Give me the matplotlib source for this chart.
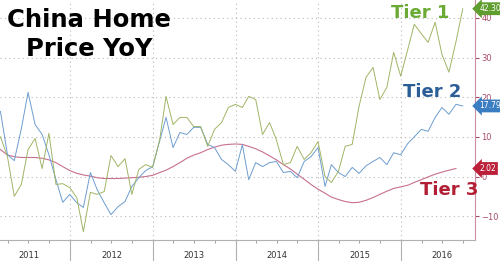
import matplotlib
matplotlib.use("Agg")
import matplotlib.pyplot as plt
import matplotlib.dates as mdates
import matplotlib.transforms as mtrans
import pandas as pd
from datetime import datetime

# monthly readings, Feb 2011 .. Sep 2016 (tier 3 ends one month earlier)
meses = pd.date_range("2011-02-28", periods=68, freq="ME")

tier1 = [10, 5, -5, -2, 6.8, 9.6, 2, 10.9, -2, -1.8, -2.8, -5.3, -13.9, -4, -4.5, -3.8,
         5.3, 2.5, 4.5, -4.5, 1.8, 3, 2.3, 9.3, 20.2, 13.1, 14.9, 14.9, 12.6, 12.6, 7.6,
         11.9, 13.6, 17.4, 18.2, 17.4, 20.2, 19.4, 10.6, 13.6, 9.3, 3, 3.5, 7.6, 4.3, 6,
         8.8, 0, -1.5, 1.3, 7.6, 8.1, 17.7, 25, 27.5, 19.4, 22.5, 31.3, 25.3, 32, 38.4,
         36, 33.8, 38.9, 30.8, 26.3, 34, 42.3]

tier2 = [16.4, 5.5, 4, 12, 21.2, 13.1, 10.6, 5.5, -0.8, -6.5, -4.5, -6.6, -7.8, 1, -3.3,
         -6.6, -9.6, -7.6, -6.3, -2.5, -0.3, 1.5, 2.5, 9, 14.9, 7.3, 11.1, 10.6, 12.4,
         12.4, 8.1, 7.3, 4.3, 3, 1.3, 8, -0.8, 3.5, 2.5, 3.5, 3.8, 1, 1.3, -0.3, 3.8, 5,
         7.3, -2.5, 3, 1, 0, 2.3, 0.8, 2.7, 3.8, 4.8, 3, 6, 5.5, 8.3, 10, 11.9, 11.4,
         14.9, 17.4, 15.7, 18.2, 17.79]

tier3 = [6.8, 5.4, 5.0, 4.8, 4.8, 4.8, 4.6, 4.2, 3.5, 2.5, 1.5, 0.8, 0.4, 0.1, -0.3,
         -0.5, -0.5, -0.5, -0.4, -0.3, -0.2, 0, 0.3, 1.0, 1.6, 2.5, 3.5, 4.6, 5.4, 6.0,
         6.8, 7.4, 7.9, 8.1, 8.2, 8.1, 7.6, 7.0, 6.2, 5.2, 4.2, 3.0, 1.9, 0.6, -0.7,
         -2.0, -3.2, -4.2, -5.2, -5.8, -6.3, -6.6, -6.5, -6.0, -5.3, -4.5, -3.7, -3.0,
         -2.6, -2.2, -1.5, -0.8, -0.1, 0.6, 1.1, 1.6, 2.02]

anos = ["2011", "2012", "2013", "2014", "2015", "2016"]

cor1, cor2, cor3 = "#a0b566", "#6d9dd0", "#c7708e"

fig = plt.figure(figsize=(5, 2.61), dpi=100)
ax = fig.add_axes([0, 0.0805, 0.95, 0.9195])

ax.plot(meses[:len(tier3)], tier3, color=cor3, lw=0.8)
ax.plot(meses[:len(tier2)], tier2, color=cor2, lw=0.7)
ax.plot(meses[:len(tier1)], tier1, color=cor1, lw=0.7)

ax.set_xlim(datetime(2011, 2, 26), datetime(2016, 11, 23))
ax.set_ylim(-16, 44.5)

# eixo direito
ax.yaxis.tick_right()
ax.set_yticks([-10, 0, 10, 20, 30, 40])
ax.tick_params(axis="y", colors="#a94a6a", labelsize=6, length=3, width=0.8, pad=1.5)
ax.grid(axis="y", linestyle=(0, (1, 3)), color="#b8b8b8", lw=0.8)

# eixo x: divisores de ano, ticks trimestrais
ax.xaxis.set_major_locator(mdates.YearLocator())
ax.xaxis.set_minor_locator(mdates.MonthLocator(bymonth=[4, 7, 10]))
ax.xaxis.set_major_formatter(plt.NullFormatter())
ax.tick_params(axis="x", which="major", length=15, width=0.8, color="#b0b0b0")
ax.tick_params(axis="x", which="minor", length=2.5, width=0.6, color="#909090")
ax.grid(axis="x", which="major", linestyle=(0, (1, 3)), color="#b8b8b8", lw=0.8)

trans = mtrans.blended_transform_factory(ax.transData, ax.transAxes)
for a in anos:
    ax.text(datetime(int(a), 7, 2), -0.066, a, transform=trans, ha="center", va="center",
            fontsize=6, color="#333333")

for lado in ["left", "top"]:
    ax.spines[lado].set_visible(False)
ax.spines["right"].set_color("#c98ea4")
ax.spines["bottom"].set_color("#b0b0b0")
ax.spines["bottom"].set_linewidth(0.8)

# titulo e rotulos
ax.text(0.014, 0.8875, "China Home", transform=ax.transAxes, ha="left", va="baseline",
        fontsize=17.5, fontweight="bold", color="black")
ax.text(0.054, 0.767, "Price YoY", transform=ax.transAxes, ha="left", va="baseline",
        fontsize=17.5, fontweight="bold", color="black")
ax.text(0.885, 0.945, "Tier 1", transform=ax.transAxes, ha="center", va="center",
        fontsize=13, fontweight="bold", color="#6aaa35")
ax.text(0.91, 0.615, "Tier 2", transform=ax.transAxes, ha="center", va="center",
        fontsize=13, fontweight="bold", color="#2b5d97")
ax.text(0.945, 0.21, "Tier 3", transform=ax.transAxes, ha="center", va="center",
        fontsize=13, fontweight="bold", color="#b21f35")

# caixas de ultimo valor
for val, cor in [(tier1[-1], "#5f9d2e"), (tier2[-1], "#3b7dc2"), (tier3[-1], "#bb1f3a")]:
    ax.annotate(f"{val:.2f}", xy=(1.0, val), xycoords=("axes fraction", "data"),
                xytext=(3, 0), textcoords="offset points", ha="left", va="center",
                fontsize=5.5, color="white", annotation_clip=False,
                bbox=dict(boxstyle="larrow,pad=0.25", fc=cor, ec="none"))

fig.savefig("out.png", dpi=100)
